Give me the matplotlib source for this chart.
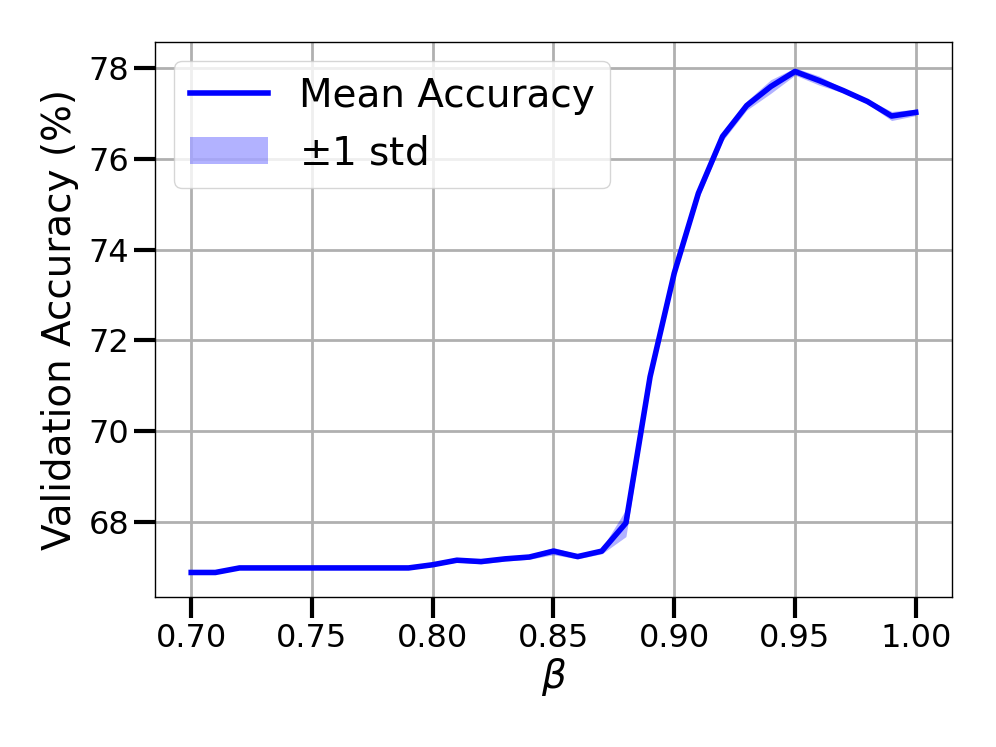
import numpy as np
import matplotlib
matplotlib.use("Agg")
import matplotlib.pyplot as plt

# ---------------- DATA ----------------
beta = [0.70, 0.71, 0.72, 0.73, 0.74, 0.75, 0.76, 0.77, 0.78, 0.79,
        0.80, 0.81, 0.82, 0.83, 0.84, 0.85, 0.86, 0.87, 0.88, 0.89,
        0.90, 0.91, 0.92, 0.93, 0.94, 0.95, 0.96, 0.97, 0.98, 0.99, 1.00]
mean_acc = [66.89, 66.89, 66.99, 66.99, 66.99, 66.99, 66.99, 66.99, 66.99, 66.99,
            67.06, 67.16, 67.13, 67.19, 67.23, 67.36, 67.24, 67.36, 67.98, 71.20,
            73.48, 75.24, 76.49, 77.17, 77.59, 77.92, 77.72, 77.50, 77.26, 76.94, 77.02]
std_acc = [0.02, 0.02, 0.02, 0.02, 0.02, 0.02, 0.02, 0.02, 0.02, 0.02,
           0.03, 0.04, 0.05, 0.05, 0.05, 0.08, 0.05, 0.06, 0.30, 0.15,
           0.10, 0.12, 0.10, 0.10, 0.15, 0.08, 0.10, 0.05, 0.05, 0.10, 0.07]

beta = np.array(beta)
mean_acc = np.array(mean_acc)
std_acc = np.array(std_acc)

# ---------------- PLOT ----------------
fig = plt.figure(figsize=(9.96, 7.47), dpi=100)
ax = fig.add_axes([0.1556, 0.2008, 0.8002, 0.7430])

ax.plot(beta, mean_acc, "-", color="blue", lw=4.0, label="Mean Accuracy")
ax.fill_between(beta, mean_acc - std_acc, mean_acc + std_acc,
                color="blue", alpha=0.3, lw=0, label=r"$\pm$1 std")

ax.set_xlim(0.685, 1.015)
ax.set_ylim(66.35, 78.57)
ax.set_xticks([0.70, 0.75, 0.80, 0.85, 0.90, 0.95, 1.00])
ax.set_yticks([68, 70, 72, 74, 76, 78])
ax.tick_params(axis="both", labelsize=23, length=15, width=3, direction="out")
ax.set_xlabel(r"$\beta$", fontsize=28, labelpad=2)
ax.set_ylabel("Validation Accuracy (%)", fontsize=28, labelpad=7)
ax.grid(True, color="#b0b0b0", lw=2.0)
ax.set_axisbelow(True)
for sp in ax.spines.values():
    sp.set_linewidth(1.0)

ax.legend(loc="upper left", fontsize=28, frameon=True)

plt.savefig("out.png", dpi=100)
